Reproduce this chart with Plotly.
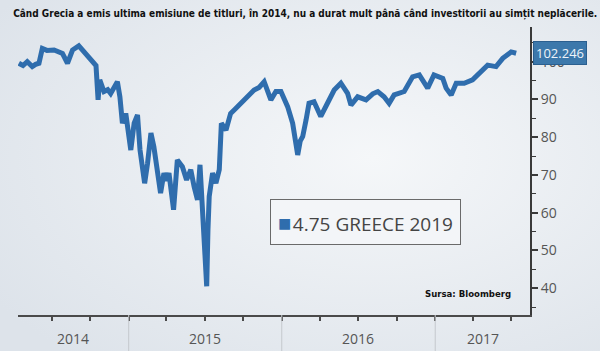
import plotly.graph_objects as go
import pandas as pd

# ---- data ----
dates = [
    "2014-04-14", "2014-04-24", "2014-05-04", "2014-05-16", "2014-05-24", "2014-06-01", "2014-06-09",
    "2014-06-20", "2014-07-07", "2014-07-18", "2014-07-27", "2014-08-08", "2014-08-20", "2014-09-04",
    "2014-09-14", "2014-09-24", "2014-10-10", "2014-10-15", "2014-10-20", "2014-10-24", "2014-11-03",
    "2014-11-12", "2014-11-19", "2014-12-05", "2014-12-11", "2014-12-17", "2014-12-25", "2015-01-02",
    "2015-01-06", "2015-01-14", "2015-01-22", "2015-01-28", "2015-02-03", "2015-02-08", "2015-02-15",
    "2015-02-23", "2015-03-02", "2015-03-11", "2015-03-18", "2015-03-26", "2015-04-01", "2015-04-07",
    "2015-04-18", "2015-04-27", "2015-05-09", "2015-05-19", "2015-05-29", "2015-06-06", "2015-06-14",
    "2015-06-20", "2015-06-26", "2015-07-01", "2015-07-06", "2015-07-09", "2015-07-12", "2015-07-20",
    "2015-07-28", "2015-08-05", "2015-08-10", "2015-08-21", "2015-09-01", "2015-09-12", "2015-09-25",
    "2015-10-11", "2015-10-27", "2015-11-08", "2015-11-20", "2015-12-06", "2015-12-18", "2015-12-30",
    "2016-01-15", "2016-01-27", "2016-02-08", "2016-02-14", "2016-02-20", "2016-02-28", "2016-03-06",
    "2016-03-18", "2016-04-03", "2016-04-19", "2016-05-05", "2016-05-21", "2016-06-06", "2016-06-14",
    "2016-06-30", "2016-07-20", "2016-08-05", "2016-08-17", "2016-09-01", "2016-09-13", "2016-09-25",
    "2016-10-19", "2016-11-08", "2016-11-24", "2016-12-14", "2016-12-29", "2017-01-19", "2017-01-27",
    "2017-02-08", "2017-02-20", "2017-03-11", "2017-03-31", "2017-04-16", "2017-05-06", "2017-05-26",
    "2017-06-11", "2017-07-01", "2017-07-13",
]
prices = [
    99.6, 99.0, 100.0, 98.7, 99.3, 99.6, 103.5,
    103.0, 103.1, 102.6, 102.2, 99.6, 103.1, 104.2,
    103.0, 101.8, 100.0, 99.0, 89.9, 95.2, 92.1,
    92.6, 91.6, 94.7, 90.7, 83.7, 86.3, 80.2,
    76.6, 83.7, 85.9, 76.6, 70.5, 67.8, 73.1,
    81.1, 77.5, 71.4, 65.2, 70.5, 68.5, 70.5,
    60.8, 74.0, 72.2, 68.7, 71.4, 66.9, 63.4,
    72.7, 60.8, 46.7, 40.5, 55.5, 64.3, 70.5,
    67.8, 71.4, 83.7, 81.9, 86.3, 87.5, 89.0,
    90.7, 92.5, 93.2, 94.7, 89.9, 92.1, 92.1,
    88.1, 83.7, 75.3, 79.0, 80.2, 84.6, 89.0,
    89.4, 85.5, 89.0, 92.5, 94.3, 91.6, 88.5,
    90.7, 89.9, 91.5, 92.1, 90.7, 89.0, 91.2,
    92.1, 96.0, 96.5, 93.0, 96.5, 95.6, 93.0,
    91.2, 94.3, 94.3, 95.2, 96.9, 99.1, 98.7,
    100.9, 102.6, 102.246,
]
series_name = "4.75 GREECE 2019"
last_value = 102.246
y_ticks = [40, 50, 60, 70, 80, 90, 100]
quarter_ticks = ["2014-07-01", "2014-10-01", "2015-01-01", "2015-04-01", "2015-07-01",
                 "2015-10-01", "2016-01-01", "2016-04-01", "2016-07-01", "2016-10-01",
                 "2017-01-01", "2017-04-01", "2017-07-01"]
years = [2014, 2015, 2016, 2017]
x_start, x_end = "2014-04-12", "2017-08-15"
y_range = [32.9, 109.2]

title_text = ("Când Grecia a emis ultima emisiune de titluri, în 2014, nu a durat mult "
              "până când investitorii au simțit neplăcerile.")
source_text = "Sursa: Bloomberg"

LINE = "#2f6dad"
AXIS = "#3a3a3a"
LABEL = "#555555"
BG = "#e9edf2"
COND = "DejaVu Sans Condensed, Liberation Sans Narrow, sans-serif"
UI = "Open Sans, Segoe UI, sans-serif"

# soft background gradient (decorative)
bg_svg = ("data:image/svg+xml;utf8,"
          "<svg xmlns='http://www.w3.org/2000/svg' width='600' height='351'>"
          "<defs><radialGradient id='g' cx='0.62' cy='0.45' r='0.75'>"
          "<stop offset='0' stop-color='%23f5f7f9'/><stop offset='1' stop-color='%23dde3ea'/>"
          "</radialGradient></defs><rect width='600' height='351' fill='url(%23g)'/></svg>")

fig = go.Figure()
fig.add_trace(go.Scatter(x=dates, y=prices, mode="lines", showlegend=False, name=series_name,
                         line=dict(color=LINE, width=5), hoverinfo="x+y"))

annotations = []
shapes = []
xs = pd.Timestamp(x_start)
xe = pd.Timestamp(x_end)
for yr in years:
    a = max(pd.Timestamp(f"{yr}-01-01"), xs)
    b = min(pd.Timestamp(f"{yr + 1}-01-01"), xe)
    mid = a + (b - a) / 2
    annotations.append(dict(x=mid, y=-0.08, xref="x", yref="paper", text=str(yr),
                            showarrow=False, font=dict(family=UI, size=14, color=LABEL),
                            xanchor="center", yanchor="middle"))
    if yr > years[0]:
        shapes.append(dict(type="line", xref="x", yref="paper",
                           x0=f"{yr}-01-01", x1=f"{yr}-01-01", y0=0, y1=-0.13,
                           line=dict(color="#c4c8cd", width=1)))

# legend box
annotations.append(dict(x=0.492, y=0.403, xref="paper", yref="paper",
                        text=(f"<span style='color:{LINE};font-size:22px'>■</span>"
                              f"<span style='font-size:6px'> </span>{series_name}"),
                        showarrow=False, xanchor="left", yanchor="top",
                        font=dict(family=UI, size=19, color="#444444"),
                        bgcolor="#f3f5f8", bordercolor="#6a6a6a", borderwidth=1, borderpad=7))
# last value tag
annotations.append(dict(x=1, xref="paper", y=last_value, yref="y", text=f"{last_value:.3f}",
                        showarrow=False, xanchor="left", yanchor="middle", xshift=3,
                        font=dict(family=UI, size=13, color="#eef4fa"),
                        bgcolor="#3c78ab", bordercolor="#2b5f8f", borderwidth=1, borderpad=2))
annotations.append(dict(x=0.967, y=0.076, xref="paper", yref="paper", text=f"<b>{source_text}</b>",
                        showarrow=False, xanchor="right", yanchor="middle",
                        font=dict(family=COND, size=9.5, color="#111111")))

fig.update_layout(
    width=600, height=351,
    margin=dict(l=18, r=70, t=27, b=36),
    paper_bgcolor=BG, plot_bgcolor="rgba(0,0,0,0)",
    images=[dict(source=bg_svg, xref="paper", yref="paper", x=-18 / 512, y=1 + 27 / 288,
                 sizex=600 / 512, sizey=351 / 288, xanchor="left", yanchor="top",
                 sizing="stretch", layer="below")],
    title=dict(text=f"<b>{title_text}</b>", x=0.022, xanchor="left", xref="container",
               y=0.962, yanchor="middle", yref="container",
               font=dict(family=COND, size=10, color="#111111")),
    showlegend=False,
    xaxis=dict(type="date", range=[x_start, x_end], showgrid=False, zeroline=False,
               showline=True, linecolor="#4a4a4a", linewidth=2,
               tickvals=quarter_ticks, ticktext=[""] * len(quarter_ticks),
               ticks="outside", ticklen=4, tickwidth=2, tickcolor="#4a4a4a"),
    yaxis=dict(side="right", range=y_range, showgrid=False, zeroline=False,
               showline=True, linecolor=AXIS, linewidth=2,
               tickvals=y_ticks, ticks="outside", ticklen=6, tickwidth=2, tickcolor=AXIS,
               tickfont=dict(family=UI, size=14, color=LABEL),
               minor=dict(dtick=5, tick0=0, ticks="outside", ticklen=4, tickwidth=1, tickcolor=AXIS)),
    annotations=annotations,
    shapes=shapes,
)

fig.write_html("out.html")
